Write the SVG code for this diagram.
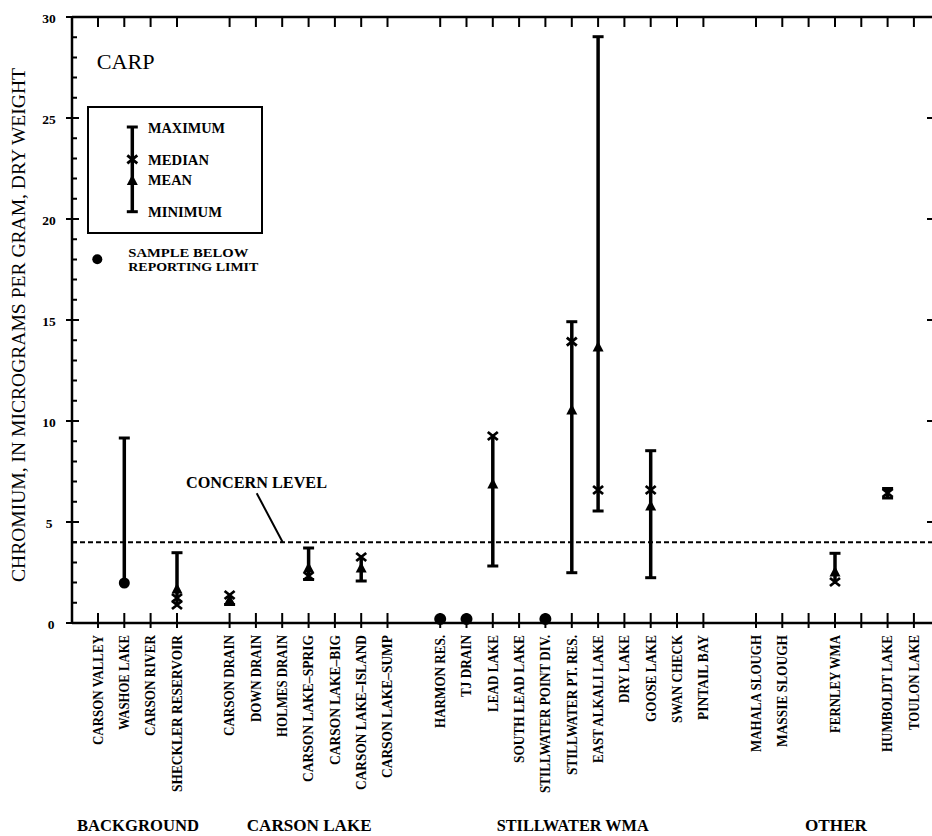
<svg xmlns="http://www.w3.org/2000/svg" width="932" height="836" viewBox="0 0 932 836">
<style>
.ax{stroke:#000;stroke-width:2.5;fill:none}
.tk{stroke:#000;stroke-width:2;fill:none}
.bar{stroke:#000;stroke-width:3.5;fill:none}
.cap{stroke:#000;stroke-width:3;fill:none}
.xm{stroke:#000;stroke-width:2.8;fill:none}
.tri{fill:#000}
.dot{fill:#000}
.lb{font-family:"Liberation Serif",serif;font-weight:bold;font-size:14px;fill:#000}
.num{font-family:"Liberation Serif",serif;font-weight:bold;font-size:13.5px;fill:#000;text-anchor:middle}
.grp{font-family:"Liberation Serif",serif;font-weight:bold;font-size:16.5px;fill:#000}
.leg{font-family:"Liberation Serif",serif;font-weight:bold;font-size:14.5px;fill:#000}
.leg2{font-family:"Liberation Serif",serif;font-weight:bold;font-size:12px;fill:#000}
</style>
<defs>
<path id="xmk" class="xm" d="M-5,-4 L5,4 M5,-4 L-5,4"/>
<polygon id="trk" class="tri" points="0,-6 5.5,4.5 -5.5,4.5"/>
<path id="cp" class="cap" d="M-5.5,0 H5.5"/>
</defs>
<rect width="932" height="836" fill="#fff"/>
<g id="axes">
<path class="ax" d="M72,17 V623 M72,623 H932 M72,17 H932"/>
<path class="tk" d="M72,602.8h5M72,582.6h5M72,562.4h5M72,542.2h5M72,501.8h5M72,481.6h5M72,461.4h5M72,441.2h5M72,400.8h5M72,380.6h5M72,360.4h5M72,340.2h5M72,299.8h5M72,279.6h5M72,259.4h5M72,239.2h5M72,198.8h5M72,178.6h5M72,158.4h5M72,138.2h5M72,97.8h5M72,77.6h5M72,57.4h5M72,37.2h5"/>
<path class="tk" d="M66,522h13M66,421h13M66,320h13M66,219h13M66,118h13M66,17h13M66,623h13"/>
<path class="tk" d="M927,522h5M927,421h5M927,320h5M927,219h5M927,118h5"/>
<path class="tk" d="M98,613v15M124.3,613v15M150.6,613v15M177,613v15M229.6,613v15M255.9,613v15M282.2,613v15M308.6,613v15M334.9,613v15M361.2,613v15M387.5,613v15M440.2,613v15M466.5,613v15M492.8,613v15M519.1,613v15M545.4,613v15M571.8,613v15M598.1,613v15M624.4,613v15M650.7,613v15M677,613v15M703.4,613v15M756,613v15M782.3,613v15M808.6,613v15M835,613v15M861.3,613v15M887.6,613v15M913.9,613v15"/>
<path class="tk" d="M98,17v10M124.3,17v10M150.6,17v10M177,17v10M229.6,17v10M255.9,17v10M282.2,17v10M308.6,17v10M334.9,17v10M361.2,17v10M387.5,17v10M440.2,17v10M466.5,17v10M492.8,17v10M519.1,17v10M545.4,17v10M571.8,17v10M598.1,17v10M624.4,17v10M650.7,17v10M677,17v10M703.4,17v10M756,17v10M782.3,17v10M808.6,17v10M835,17v10M861.3,17v10M887.6,17v10M913.9,17v10"/>
<text class="num" x="49" y="22.5">30</text>
<text class="num" x="49" y="123.5">25</text>
<text class="num" x="49" y="224.5">20</text>
<text class="num" x="49" y="325.5">15</text>
<text class="num" x="49" y="426.5">10</text>
<text class="num" x="49" y="527.5">5</text>
<text class="num" x="51" y="628.5">0</text>
<text x="0" y="0" transform="translate(25,325) rotate(-90)" text-anchor="middle" font-family="Liberation Serif, serif" font-size="19.5" textLength="514" lengthAdjust="spacingAndGlyphs">CHROMIUM, IN MICROGRAMS PER GRAM, DRY WEIGHT</text>
</g>
<g id="concern-level">
<path d="M72,542.2 H932" stroke="#000" stroke-width="2" stroke-dasharray="5 3" fill="none"/>
<path d="M256.7,493.3 L282.7,542.2" stroke="#000" stroke-width="2" fill="none"/>
<text class="grp" x="186" y="488.3" font-size="16" textLength="141" lengthAdjust="spacingAndGlyphs">CONCERN LEVEL</text>
</g>
<g id="title">
<text x="96.7" y="68.5" font-family="Liberation Serif, serif" font-size="22" textLength="58" lengthAdjust="spacingAndGlyphs">CARP</text>
</g>
<g id="legend">
<rect x="88" y="107" width="174" height="126" fill="none" stroke="#000" stroke-width="2"/>
<path class="bar" d="M132.3,127 V211.7" stroke-width="2.6"/>
<use href="#cp" x="132.3" y="127"/>
<use href="#cp" x="132.3" y="211.7"/>
<use href="#xmk" x="132.3" y="159.3"/>
<use href="#trk" x="132.3" y="180.5"/>
<text class="leg" x="148" y="132.5" textLength="77" lengthAdjust="spacingAndGlyphs">MAXIMUM</text>
<text class="leg" x="148" y="165" textLength="61" lengthAdjust="spacingAndGlyphs">MEDIAN</text>
<text class="leg" x="148" y="185" textLength="44" lengthAdjust="spacingAndGlyphs">MEAN</text>
<text class="leg" x="148" y="216.5" textLength="74" lengthAdjust="spacingAndGlyphs">MINIMUM</text>
<circle class="dot" cx="97.3" cy="259.3" r="5"/>
<text class="leg2" x="128.3" y="256.5" textLength="120" lengthAdjust="spacingAndGlyphs">SAMPLE BELOW</text>
<text class="leg2" x="128.3" y="270.5" textLength="130" lengthAdjust="spacingAndGlyphs">REPORTING LIMIT</text>
</g>
<g id="data">
<g id="washoe-lake"><path class="bar" d="M124.3,438 V583"/><use href="#cp" x="124.3" y="438"/><circle class="dot" cx="124.3" cy="583" r="5.5"/></g>
<g id="sheckler-reservoir"><path class="bar" d="M177,552.7 V605"/><use href="#cp" x="177" y="552.7"/><use href="#trk" x="177" y="589"/><use href="#xmk" x="177" y="598"/><use href="#xmk" x="177" y="605"/></g>
<g id="carson-drain"><path class="bar" d="M229.6,594 V604"/><use href="#xmk" x="229.6" y="595"/><use href="#trk" x="229.6" y="600"/><use href="#cp" x="229.6" y="604.5"/></g>
<g id="carson-lake-sprig"><path class="bar" d="M308.6,548 V580"/><use href="#cp" x="308.6" y="548"/><use href="#trk" x="308.6" y="568"/><use href="#xmk" x="308.6" y="576"/><use href="#cp" x="308.6" y="579.5"/></g>
<g id="carson-lake-island"><path class="bar" d="M361.2,556 V581"/><use href="#xmk" x="361.2" y="557"/><use href="#trk" x="361.2" y="568"/><use href="#cp" x="361.2" y="581"/></g>
<g id="harmon-res"><circle class="dot" cx="440.2" cy="619" r="6"/></g>
<g id="tj-drain"><circle class="dot" cx="466.5" cy="619" r="6"/></g>
<g id="lead-lake"><path class="bar" d="M492.8,435 V566"/><use href="#xmk" x="492.8" y="436"/><use href="#trk" x="492.8" y="484"/><use href="#cp" x="492.8" y="566"/></g>
<g id="stillwater-point-div"><circle class="dot" cx="545.4" cy="619" r="6"/></g>
<g id="stillwater-pt-res"><path class="bar" d="M571.8,321.7 V572.7"/><use href="#cp" x="571.8" y="321.7"/><use href="#xmk" x="571.8" y="341.7"/><use href="#trk" x="571.8" y="410"/><use href="#cp" x="571.8" y="572.7"/></g>
<g id="east-alkali-lake"><path class="bar" d="M598.1,36.7 V511"/><use href="#cp" x="598.1" y="36.7"/><use href="#trk" x="598.1" y="347"/><use href="#xmk" x="598.1" y="490"/><use href="#cp" x="598.1" y="511"/></g>
<g id="goose-lake"><path class="bar" d="M650.7,450.7 V577.7"/><use href="#cp" x="650.7" y="450.7"/><use href="#xmk" x="650.7" y="490"/><use href="#trk" x="650.7" y="506"/><use href="#cp" x="650.7" y="577.7"/></g>
<g id="fernley-wma"><path class="bar" d="M835,553.3 V584"/><use href="#cp" x="835" y="553.3"/><use href="#trk" x="835" y="572"/><use href="#xmk" x="835" y="582"/></g>
<g id="humboldt-lake"><path class="bar" d="M887.6,488 V498"/><use href="#cp" x="887.6" y="488.5"/><use href="#xmk" x="887.6" y="493"/><use href="#cp" x="887.6" y="498"/></g>
</g>
<g id="site-labels" class="lb" text-anchor="end">
<text transform="translate(102.8,635) rotate(-90)" textLength="110" lengthAdjust="spacingAndGlyphs">CARSON VALLEY</text>
<text transform="translate(129.1,635) rotate(-90)" textLength="95" lengthAdjust="spacingAndGlyphs">WASHOE LAKE</text>
<text transform="translate(155.4,635) rotate(-90)" textLength="101" lengthAdjust="spacingAndGlyphs">CARSON RIVER</text>
<text transform="translate(181.8,635) rotate(-90)" textLength="157" lengthAdjust="spacingAndGlyphs">SHECKLER RESERVOIR</text>
<text transform="translate(234.4,635) rotate(-90)" textLength="101" lengthAdjust="spacingAndGlyphs">CARSON DRAIN</text>
<text transform="translate(260.7,635) rotate(-90)" textLength="87" lengthAdjust="spacingAndGlyphs">DOWN DRAIN</text>
<text transform="translate(287,635) rotate(-90)" textLength="102" lengthAdjust="spacingAndGlyphs">HOLMES DRAIN</text>
<text transform="translate(313.4,635) rotate(-90)" textLength="147" lengthAdjust="spacingAndGlyphs">CARSON LAKE–SPRIG</text>
<text transform="translate(339.7,635) rotate(-90)" textLength="130" lengthAdjust="spacingAndGlyphs">CARSON LAKE–BIG</text>
<text transform="translate(366,635) rotate(-90)" textLength="155" lengthAdjust="spacingAndGlyphs">CARSON LAKE–ISLAND</text>
<text transform="translate(392.3,635) rotate(-90)" textLength="143" lengthAdjust="spacingAndGlyphs">CARSON LAKE–SUMP</text>
<text transform="translate(445,635) rotate(-90)" textLength="93" lengthAdjust="spacingAndGlyphs">HARMON RES.</text>
<text transform="translate(471.3,635) rotate(-90)" textLength="62" lengthAdjust="spacingAndGlyphs">TJ DRAIN</text>
<text transform="translate(497.6,635) rotate(-90)" textLength="77" lengthAdjust="spacingAndGlyphs">LEAD LAKE</text>
<text transform="translate(523.9,635) rotate(-90)" textLength="128" lengthAdjust="spacingAndGlyphs">SOUTH LEAD LAKE</text>
<text transform="translate(550.2,635) rotate(-90)" textLength="158" lengthAdjust="spacingAndGlyphs">STILLWATER POINT DIV.</text>
<text transform="translate(576.6,635) rotate(-90)" textLength="140" lengthAdjust="spacingAndGlyphs">STILLWATER PT. RES.</text>
<text transform="translate(602.9,635) rotate(-90)" textLength="128" lengthAdjust="spacingAndGlyphs">EAST ALKALI LAKE</text>
<text transform="translate(629.2,635) rotate(-90)" textLength="68" lengthAdjust="spacingAndGlyphs">DRY LAKE</text>
<text transform="translate(655.5,635) rotate(-90)" textLength="87" lengthAdjust="spacingAndGlyphs">GOOSE LAKE</text>
<text transform="translate(681.8,635) rotate(-90)" textLength="88" lengthAdjust="spacingAndGlyphs">SWAN CHECK</text>
<text transform="translate(708.2,635) rotate(-90)" textLength="85" lengthAdjust="spacingAndGlyphs">PINTAIL BAY</text>
<text transform="translate(760.8,635) rotate(-90)" textLength="117" lengthAdjust="spacingAndGlyphs">MAHALA SLOUGH</text>
<text transform="translate(787.1,635) rotate(-90)" textLength="112" lengthAdjust="spacingAndGlyphs">MASSIE SLOUGH</text>
<text transform="translate(839.8,635) rotate(-90)" textLength="98" lengthAdjust="spacingAndGlyphs">FERNLEY WMA</text>
<text transform="translate(892.4,635) rotate(-90)" textLength="117" lengthAdjust="spacingAndGlyphs">HUMBOLDT LAKE</text>
<text transform="translate(918.7,635) rotate(-90)" textLength="95" lengthAdjust="spacingAndGlyphs">TOULON LAKE</text>
</g>
<g id="group-labels" class="grp">
<text x="77" y="831" textLength="122" lengthAdjust="spacingAndGlyphs">BACKGROUND</text>
<text x="246.7" y="831" textLength="125" lengthAdjust="spacingAndGlyphs">CARSON LAKE</text>
<text x="496.7" y="831" textLength="152" lengthAdjust="spacingAndGlyphs">STILLWATER WMA</text>
<text x="805" y="831" textLength="62" lengthAdjust="spacingAndGlyphs">OTHER</text>
</g>
</svg>
